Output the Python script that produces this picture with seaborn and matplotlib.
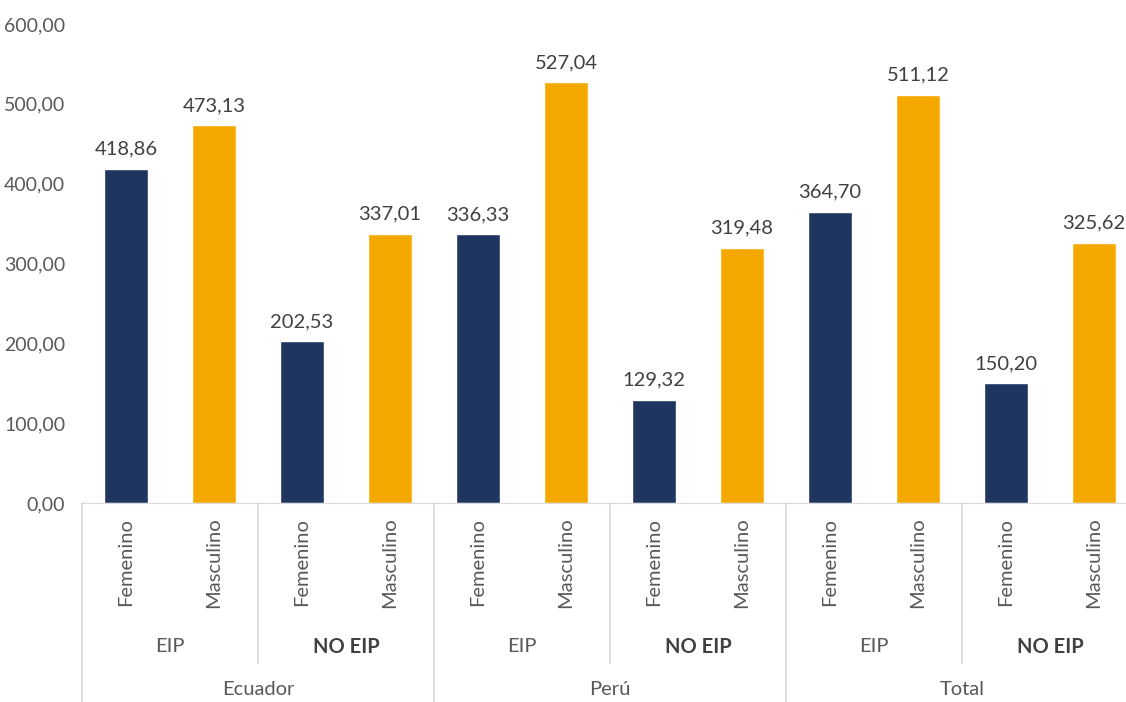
import numpy as np
import pandas as pd
import matplotlib
matplotlib.use("Agg")
import matplotlib.pyplot as plt
import seaborn as sns
from matplotlib.lines import Line2D

paises = ["Ecuador", "Perú", "Total"]
grupos = ["EIP", "NO EIP"]
sexos = ["Femenino", "Masculino"]
valores = [418.86, 473.13, 202.53, 337.01,
           336.33, 527.04, 129.32, 319.48,
           364.70, 511.12, 150.20, 325.62]

filas = []
i = 0
for p in paises:
    for g in grupos:
        for s in sexos:
            filas.append({"clave": f"{p}|{g}|{s}", "pais": p, "grupo": g,
                          "sexo": s, "valor": valores[i]})
            i += 1
df = pd.DataFrame(filas)

sns.set_style("white")
plt.rcParams['font.family'] = ['Lato', 'DejaVu Sans']

gris = "#595959"
fs = 14.5
fig = plt.figure(figsize=(11.26, 7.02), dpi=100)
ax = fig.add_axes([82/1126, (702-503)/702, 1056/1126, 479/702])

sns.barplot(data=df, x="clave", y="valor", hue="sexo", dodge=False,
            palette={"Femenino": "#1f3560", "Masculino": "#f5a800"},
            width=0.5, legend=False, ax=ax, saturation=1)

ax.set_ylim(0, 600)
ax.set_xlim(-0.5, len(df) - 0.5)
ax.set_yticks(range(0, 700, 100))
ax.set_yticklabels([f"{v:.2f}".replace(".", ",") for v in range(0, 700, 100)])
ax.tick_params(axis="y", length=0, pad=12, labelsize=14, labelcolor=gris)
ax.set_xticks([])
ax.set_xlabel("")
ax.set_ylabel("")
for s in ["left", "top", "right"]:
    ax.spines[s].set_visible(False)
ax.spines["bottom"].set_color("#d9d9d9")

for k, v in enumerate(df["valor"]):
    ax.text(k, v + 14, f"{v:.2f}".replace(".", ","), ha="center", va="bottom",
            fontsize=fs, color="#404040")

trans = ax.get_xaxis_transform()
for k, row in df.iterrows():
    ax.text(k, -0.031, row["sexo"], rotation=90, ha="center", va="top",
            fontsize=fs, color=gris, transform=trans)

for j in range(len(paises) * len(grupos)):
    g = grupos[j % 2]
    ax.text(2 * j + 0.5, -0.30, g, ha="center", va="center", fontsize=fs,
            color="#404040" if g == "NO EIP" else gris,
            fontweight="bold" if g == "NO EIP" else "normal",
            transform=trans)
for j, p in enumerate(paises):
    ax.text(4 * j + 1.5, -0.39, p, ha="center", va="center", fontsize=fs,
            color=gris, transform=trans)

for b in range(len(df) + 1):
    if b % 4 == 0:
        y0 = -0.45
    elif b % 2 == 0:
        y0 = -0.334
    else:
        continue
    ax.add_line(Line2D([b - 0.5, b - 0.5], [0, y0], transform=trans,
                       color="#d9d9d9", lw=1.2, clip_on=False))

fig.savefig("out.png", dpi=100)
